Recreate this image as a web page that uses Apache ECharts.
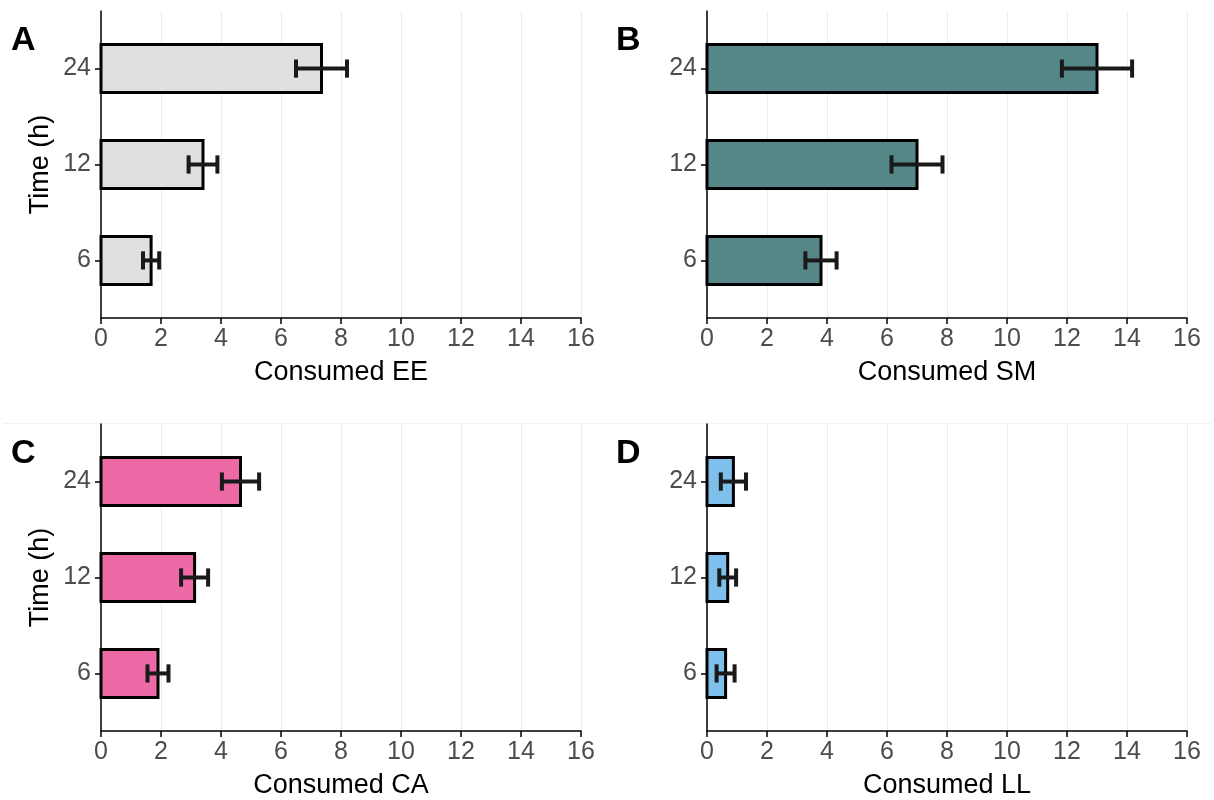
<!DOCTYPE html>
<html>
<head>
<meta charset="utf-8">
<script src="https://cdn.jsdelivr.net/npm/echarts@6/dist/echarts.min.js"></script>
<style>
html,body{margin:0;padding:0;background:#fff;}
#chart{width:1214px;height:800px;}
</style>
</head>
<body>
<div id="chart"></div>
<script>
const categories = ['6', '12', '24'];
const xTickValues = [0, 2, 4, 6, 8, 10, 12, 14, 16];

const eeMean = [1.67, 3.40, 7.35];
const eeErr  = [0.27, 0.48, 0.85];
const smMean = [3.80, 7.00, 13.00];
const smErr  = [0.52, 0.85, 1.17];
const caMean = [1.90, 3.12, 4.65];
const caErr  = [0.35, 0.45, 0.62];
const llMean = [0.62, 0.69, 0.88];
const llErr  = [0.30, 0.28, 0.42];

const panelLabels = ['A', 'B', 'C', 'D'];
const xTitles = ['Consumed EE', 'Consumed SM', 'Consumed CA', 'Consumed LL'];
const yTitle = 'Time (h)';

const panels = [
  {mean: eeMean, err: eeErr, color: '#e0e0e0', left: 101, top: 11},
  {mean: smMean, err: smErr, color: '#558789', left: 707, top: 11},
  {mean: caMean, err: caErr, color: '#ee6aa6', left: 101, top: 424},
  {mean: llMean, err: llErr, color: '#7fbfeb', left: 707, top: 424}
];

const FONT = 'Liberation Sans';
const grids = [], xAxes = [], yAxes = [], series = [], graphics = [];

panels.forEach((p, i) => {
  grids.push({left: p.left, top: p.top, width: 480, height: 307, containLabel: false});
  xAxes.push({
    type: 'value', gridIndex: i, min: 0, max: 16, interval: 2,
    name: xTitles[i], nameLocation: 'middle', nameGap: 41,
    nameTextStyle: {color: '#000', fontSize: 27, fontFamily: FONT},
    axisLine: {show: true, onZero: false, lineStyle: {color: '#000', width: 1.5}},
    axisTick: {show: true, length: 6, lineStyle: {color: '#000', width: 1.5}},
    axisLabel: {color: '#4d4d4d', fontSize: 25, fontFamily: FONT, margin: 9},
    splitLine: {show: true, lineStyle: {color: '#ebebeb', width: 1}}
  });
  yAxes.push({
    type: 'value', gridIndex: i, min: 0.4, max: 3.6,
    name: (i % 2 === 0) ? yTitle : '', nameLocation: 'middle', nameGap: 47,
    nameTextStyle: {color: '#000', fontSize: 27, fontFamily: FONT},
    axisLine: {show: true, onZero: false, lineStyle: {color: '#000', width: 1.5}},
    axisTick: {show: true, length: 6, customValues: [1, 2, 3], lineStyle: {color: '#000', width: 1.5}},
    axisLabel: {color: '#4d4d4d', fontSize: 25, fontFamily: FONT, margin: 10,
      customValues: [1, 2, 3],
      formatter: v => categories[Math.round(v) - 1]},
    splitLine: {show: false}
  });
  const data = p.mean.map((m, k) => [m, k + 1, p.err[k]]);
  series.push({
    type: 'custom', xAxisIndex: i, yAxisIndex: i, data: data,
    encode: {x: 0, y: 1},
    renderItem: (params, api) => {
      const v = api.value(0), y = api.value(1);
      const p0 = api.coord([0, y]), p1 = api.coord([v, y]);
      const h = api.size([0, 0.5])[1];
      return {type: 'rect', shape: {x: p0[0], y: p0[1] - h / 2, width: p1[0] - p0[0], height: h},
        style: {fill: p.color, stroke: '#000', lineWidth: 3}};
    }
  });
  series.push({
    type: 'custom', xAxisIndex: i, yAxisIndex: i, data: data,
    encode: {x: 0, y: 1}, z: 3,
    renderItem: (params, api) => {
      const v = api.value(0), y = api.value(1), e = api.value(2);
      const lo = api.coord([v - e, y]), hi = api.coord([v + e, y]);
      const ch = api.size([0, 0.19])[1] / 2;
      const st = {stroke: '#1a1a1a', lineWidth: 4};
      return {type: 'group', children: [
        {type: 'line', shape: {x1: lo[0], y1: lo[1], x2: hi[0], y2: hi[1]}, style: st},
        {type: 'line', shape: {x1: lo[0], y1: lo[1] - ch, x2: lo[0], y2: lo[1] + ch}, style: st},
        {type: 'line', shape: {x1: hi[0], y1: hi[1] - ch, x2: hi[0], y2: hi[1] + ch}, style: st}
      ]};
    }
  });
  graphics.push({
    type: 'text', left: (i % 2 === 0) ? 11 : 616, top: (i < 2) ? 24 : 437,
    style: {text: panelLabels[i], fill: '#000', font: 'bold 34px "' + FONT + '"'}
  });
});

graphics.push({type: 'line', shape: {x1: 3, y1: 423.5, x2: 1211, y2: 423.5}, style: {stroke: '#f2f2f2', lineWidth: 1}, z: -1});

const chart = echarts.init(document.getElementById('chart'), null, {renderer: 'canvas'});
chart.setOption({
  backgroundColor: '#fff',
  animation: false,
  grid: grids, xAxis: xAxes, yAxis: yAxes, series: series,
  graphic: graphics
});
</script>
</body>
</html>
